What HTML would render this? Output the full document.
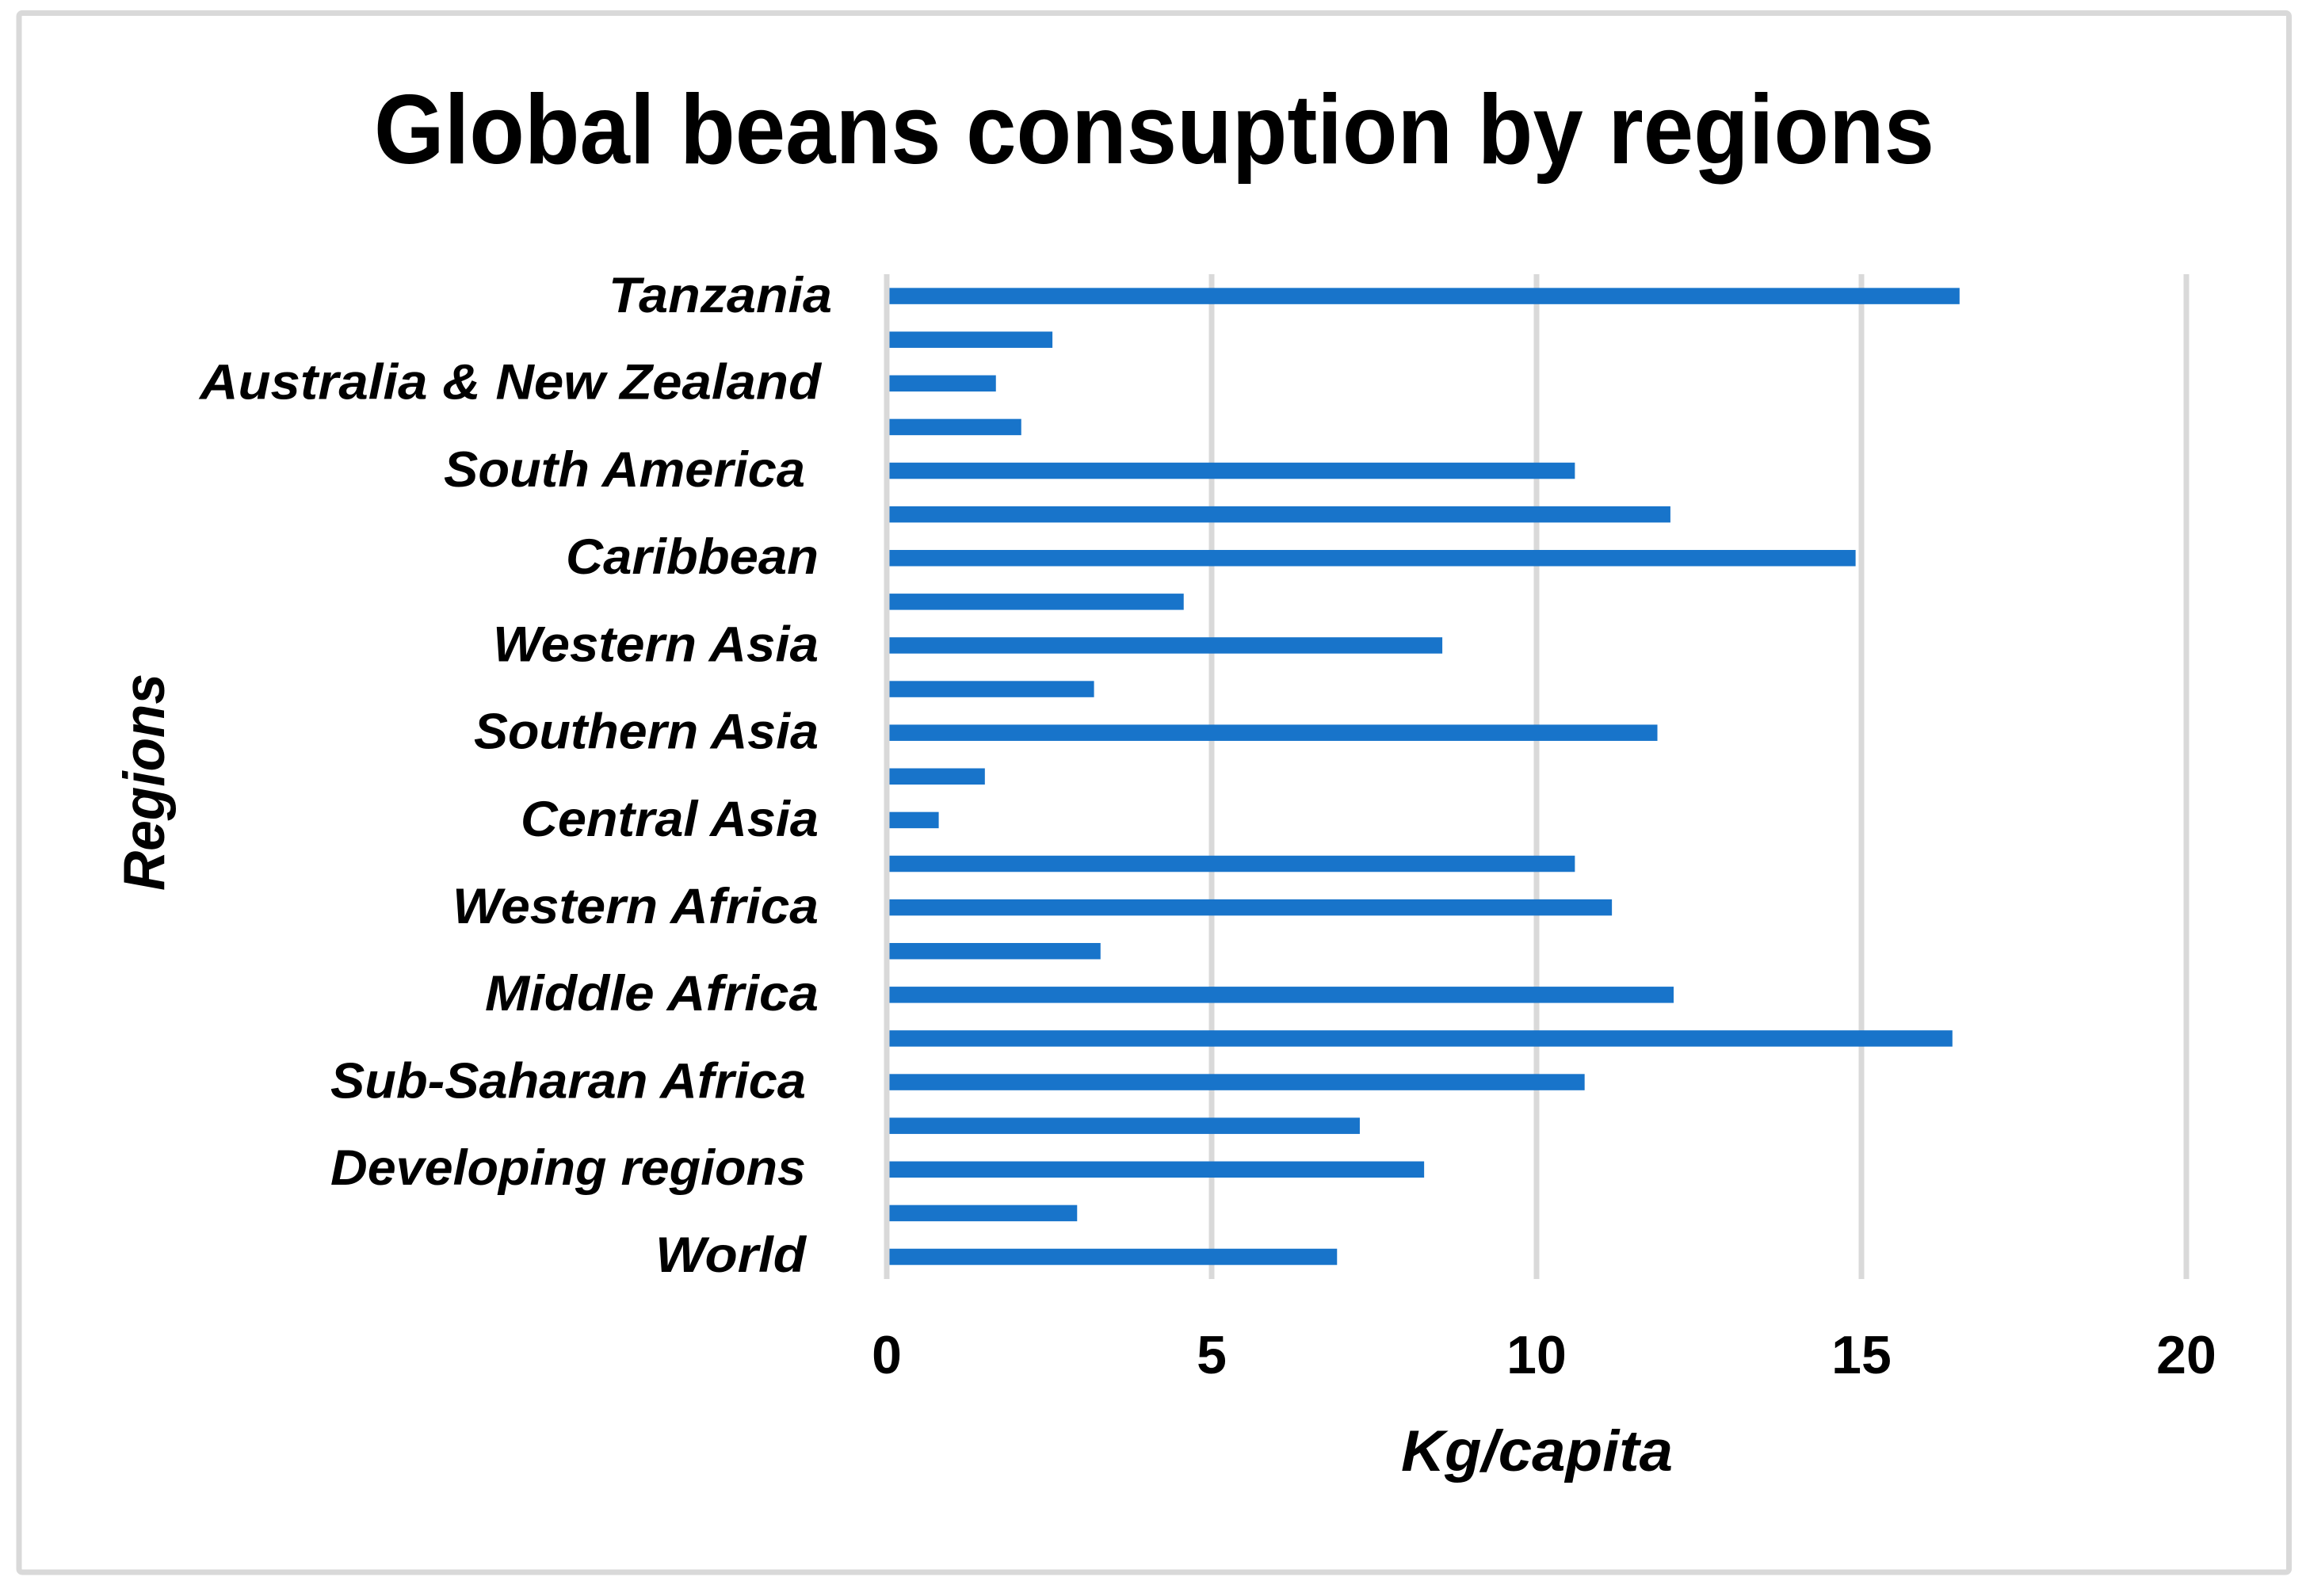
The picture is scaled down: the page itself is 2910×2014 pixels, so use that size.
<!DOCTYPE html>
<html lang="en">
<head>
<meta charset="utf-8">
<title>Global beans consuption by regions</title>
<style>
html,body{margin:0;padding:0;background:#fff;}
svg{display:block;}
text{fill:#000;font-family:"Liberation Sans",sans-serif;font-weight:bold;}
.cat{font-size:63px;font-style:italic;}
.axt{font-size:73px;font-style:italic;}
.tick{font-size:68px;text-anchor:middle;}
</style>
</head>
<body>
<svg id="chart" width="2910" height="2014" viewBox="0 0 2910 2014" xmlns="http://www.w3.org/2000/svg">
<rect x="0" y="0" width="2910" height="2014" fill="#ffffff"/>
<rect x="24" y="16.5" width="2864.5" height="1967.5" rx="4" fill="#ffffff" stroke="#d9d9d9" stroke-width="7"/>
<text x="472" y="206" font-size="124" textLength="1969" lengthAdjust="spacingAndGlyphs">Global beans consuption by regions</text>
<g id="grid"></g>
<g id="bars"></g>
<g id="axis-zero"></g>
<g id="ticks"></g>
<g>
<text class="cat" x="768" y="394" textLength="282" lengthAdjust="spacingAndGlyphs">Tanzania</text>
<text class="cat" x="252" y="503.5" textLength="784" lengthAdjust="spacingAndGlyphs">Australia &amp; New Zealand</text>
<text class="cat" x="560" y="614" textLength="456" lengthAdjust="spacingAndGlyphs">South America</text>
<text class="cat" x="714" y="724" textLength="319" lengthAdjust="spacingAndGlyphs">Caribbean</text>
<text class="cat" x="622" y="834.5" textLength="411" lengthAdjust="spacingAndGlyphs">Western Asia</text>
<text class="cat" x="598" y="944.5" textLength="435" lengthAdjust="spacingAndGlyphs">Southern Asia</text>
<text class="cat" x="657" y="1055" textLength="376" lengthAdjust="spacingAndGlyphs">Central Asia</text>
<text class="cat" x="571" y="1165" textLength="462" lengthAdjust="spacingAndGlyphs">Western Africa</text>
<text class="cat" x="612" y="1275" textLength="421" lengthAdjust="spacingAndGlyphs">Middle Africa</text>
<text class="cat" x="417" y="1385.5" textLength="600" lengthAdjust="spacingAndGlyphs">Sub-Saharan Africa</text>
<text class="cat" x="417" y="1495" textLength="600" lengthAdjust="spacingAndGlyphs">Developing regions</text>
<text class="cat" x="827" y="1605" textLength="190" lengthAdjust="spacingAndGlyphs">World</text>
</g>
<text class="axt" x="1768" y="1856" textLength="343" lengthAdjust="spacingAndGlyphs">Kg/capita</text>
<text class="axt" transform="translate(207,1124) rotate(-90)" x="0" y="0" textLength="274" lengthAdjust="spacingAndGlyphs">Regions</text>
</svg>
<script>
// Chart data, listed from the bottom row to the top row. Empty names are rows with no printed label.
const categories = ['World','','Developing regions','','Sub-Saharan Africa','','Middle Africa','','Western Africa','','Central Asia','','Southern Asia','','Western Asia','','Caribbean','','South America','','Australia & New Zealand','','Tanzania'];
const kgPerCapita = [6.93,2.93,8.27,7.28,10.74,16.40,12.11,3.29,11.16,10.59,0.80,1.51,11.86,3.19,8.55,4.57,14.91,12.06,10.59,2.07,1.68,2.55,16.51];
const tickValues = [0,5,10,15,20];
const tickLabels = ['0','5','10','15','20'];

const NS = 'http://www.w3.org/2000/svg';
const xAxis = function (v) { return 1119 + v * 82; };
const yAxis = function (i) { return 1586 - i * 55.11; };
const BAR_H = 20.5;
const PLOT_TOP = 346;
const PLOT_BOTTOM = 1614;

function makeRule(v) {
  const r = document.createElementNS(NS, 'rect');
  r.setAttribute('x', xAxis(v) - 3.5);
  r.setAttribute('y', PLOT_TOP);
  r.setAttribute('width', 7);
  r.setAttribute('height', PLOT_BOTTOM - PLOT_TOP);
  r.setAttribute('fill', '#d9d9d9');
  return r;
}

tickValues.forEach(function (v, i) {
  if (v !== 0) {
    const line = makeRule(v);
    
    
    document.getElementById('grid').appendChild(line);
  } else {
    const axisLine = makeRule(v);
    
    
    document.getElementById('axis-zero').appendChild(axisLine);
  }
  const t = document.createElementNS(NS, 'text');
  t.setAttribute('class', 'tick');
  t.setAttribute('x', xAxis(v));
  t.setAttribute('y', 1733);
  t.textContent = tickLabels[i];
  
  
  document.getElementById('ticks').appendChild(t);
});

kgPerCapita.forEach(function (v, i) {
  const bar = document.createElementNS(NS, 'rect');
  bar.setAttribute('x', xAxis(0));
  bar.setAttribute('y', yAxis(i) - BAR_H / 2);
  bar.setAttribute('width', xAxis(v) - xAxis(0));
  bar.setAttribute('height', BAR_H);
  bar.setAttribute('fill', '#1874ca');
  const slug = categories[i] ? categories[i].toLowerCase().replace(/[^a-z]+/g, '-') : 'row-' + (i + 1);
  
  
  document.getElementById('bars').appendChild(bar);
});
</script>
</body>
</html>
